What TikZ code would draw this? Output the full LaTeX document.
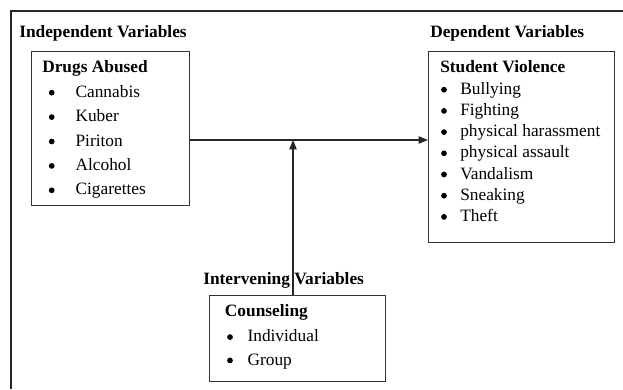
\documentclass[tikz,border=0pt]{standalone}
\usepackage{fontspec}
\setmainfont{Liberation Serif}
\usetikzlibrary{arrows.meta}

\tikzset{
    frame/.style={draw=black!85, line width=1.3pt},
    box/.style 2 args={draw=black!80, line width=0.9pt, inner sep=0pt,
        anchor=north west, minimum width=#1*0.75pt, minimum height=#2*0.75pt},
    title/.style={font=\fontsize{13}{15}\selectfont\bfseries, anchor=base west, inner sep=0pt},
    entry/.style={anchor=base west, inner sep=0pt},
    dot/.style={circle, fill=black, inner sep=0pt, minimum size=4.3pt},
    link/.style={draw=black!85, line width=0.9pt, -{Triangle[length=7pt,width=5.5pt]}}
}

\begin{document}
\begin{tikzpicture}[x=0.75pt, y=-0.75pt, font=\fontsize{13}{15}\selectfont]
    \useasboundingbox (0,0) rectangle (623,389);

    % outer frame (cut off right and bottom)
    \draw[frame] (11,389) -- (11,11) -- (623,11);

    % boxes
    \node[box={158}{154}] (drugs) at (31,51) {};
    \node[box={186}{191}] (violence) at (428,51) {};
    \node[box={176}{86}] (counsel) at (209,295) {};

    % headings
    \node[title] (indep) at (19,37.3) {Independent Variables};
    \node[title] (dep) at (430,37.3) {Dependent Variables};
    \node[title] (interv) at (203,284.3) {Intervening Variables};
    \node[title] (drugshead) at (42,72.7) {Drugs Abused};
    \node[title] (violhead) at (440,72.7) {Student Violence};
    \node[title] (counshead) at (224.7,316.7) {Counseling};

    % lists
    \foreach \t [count=\i] in {Cannabis,Kuber,Piriton,Alcohol,Cigarettes}{
        \node[dot] (dd\i) at ({51.7},{68.3+24.4*\i}) {};
        \node[entry] (d\i) at ({75.3},{72.9+24.4*\i}) {\t};
    }
    \foreach \t [count=\i] in {Bullying,Fighting,physical harassment,physical assault,Vandalism,Sneaking,Theft}{
        \node[dot] (vd\i) at ({444},{68.5+21.2*\i}) {};
        \node[entry] (v\i) at ({460},{73.1+21.2*\i}) {\t};
    }
    \foreach \t [count=\i] in {Individual,Group}{
        \node[dot] (cd\i) at ({230},{313.8+23.3*\i}) {};
        \node[entry] (c\i) at ({247.3},{318.4+23.3*\i}) {\t};
    }

    % arrows
    \coordinate (junc) at (293,140);
    \draw[link] (drugs.east |- junc) -- (violence.west |- junc);
    \draw[link] (counsel.north -| junc) -- (junc);
\end{tikzpicture}
\end{document}
